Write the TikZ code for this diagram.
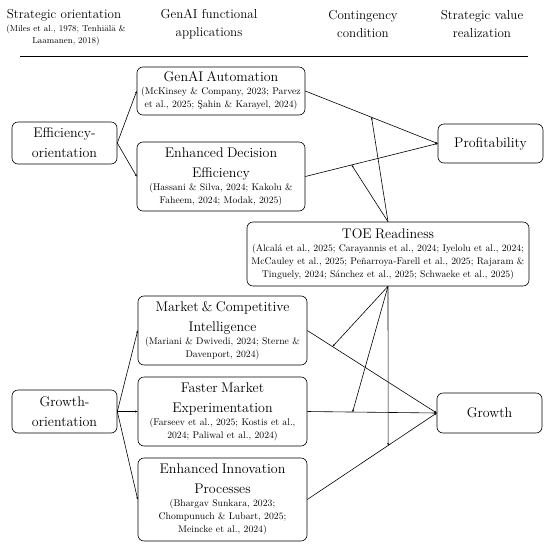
\documentclass[tikz,border=0pt]{standalone}
\usepackage{fontspec}
\usetikzlibrary{arrows.meta,calc}
\newcommand{\bxt}{\fontsize{14}{20}\selectfont}
\newcommand{\bxc}{\fontsize{9.7}{13}\selectfont}
\begin{document}
\begin{tikzpicture}[x=1pt,y=-1pt,
  box/.style={draw, rounded corners=6pt, line width=0.6pt, align=center, inner xsep=1pt, inner ysep=1pt},
  hdr/.style={align=center, font=\fontsize{13}{18}\selectfont, inner sep=0pt},
  hcit/.style={align=center, font=\fontsize{8.7}{12}\selectfont, inner sep=0pt},
  conn/.style={line width=0.6pt, -{Stealth[length=2.5pt,width=2pt]}},
]
\useasboundingbox (0,0) rectangle (550,547);
% header
\node[hdr] (h1) at (64,15) {Strategic orientation};
\node[hcit] (h1c) at (66,35) {(Miles et al., 1978; Tenhiälä \&\\Laamanen, 2018)};
\node[hdr] (h2) at (209,24) {GenAI functional\\applications};
\node[hdr] (h3) at (363,24) {Contingency\\condition};
\node[hdr] (h4) at (482,24) {Strategic value\\realization};
\coordinate (hl) at (20,56);
\coordinate (hr) at (528,56);
\draw[line width=1pt] (hl) -- (hr);
% boxes
\node[box, text width=103pt, minimum height=42pt] (eff) at (64.5,143) {\bxt Efficiency-\\orientation\par};
\node[box, text width=166pt, minimum height=48pt] (auto) at (221,91) {{\bxt GenAI Automation\par}{\bxc (McKinsey \& Company, 2023; Parvez\\et al., 2025; Şahin \& Karayel, 2024)\par}};
\node[box, text width=166pt, minimum height=69pt] (ede) at (221,176.5) {{\bxt Enhanced Decision\\Efficiency\par}{\bxc (Hassani \& Silva, 2024; Kakolu \&\\Faheem, 2024; Modak, 2025)\par}};
\node[box, text width=103pt, minimum height=39pt] (prof) at (490.5,143.5) {\bxt Profitability\par};
\node[box, text width=280pt, minimum height=64pt] (toe) at (388,254) {{\bxt TOE Readiness\par}{\bxc (Alcalá et al., 2025; Carayannis et al., 2024; Iyelolu et al., 2024;\\McCauley et al., 2025; Peñarroya-Farell et al., 2025; Rajaram \&\\Tinguely, 2024; Sánchez et al., 2025; Schwaeke et al., 2025)\par}};
\node[box, text width=167pt, minimum height=69pt] (mci) at (222.5,330.5) {{\bxt Market \& Competitive\\Intelligence\par}{\bxc (Mariani \& Dwivedi, 2024; Sterne \&\\Davenport, 2024)\par}};
\node[box, text width=167pt, minimum height=69pt] (fme) at (222.5,411.5) {{\bxt Faster Market\\Experimentation\par}{\bxc (Farseev et al., 2025; Kostis et al.,\\2024; Paliwal et al., 2024)\par}};
\node[box, text width=167pt, minimum height=83pt] (eip) at (222.5,499.5) {{\bxt Enhanced Innovation\\Processes\par}{\bxc (Bhargav Sunkara, 2023;\\Chompunuch \& Lubart, 2025;\\Meincke et al., 2024)\par}};
\node[box, text width=103pt, minimum height=43pt] (gro) at (64.5,411.5) {\bxt Growth-\\orientation\par};
\node[box, text width=103pt, minimum height=40pt] (grw) at (489.5,413) {\bxt Growth\par};
% connectors
\draw[conn] (eff.east) -- (auto.west);
\draw[conn] (eff.east) -- (ede.west);
\draw[conn] (auto.east) -- (prof.west);
\draw[conn] (ede.east) -- (prof.west);
\draw[conn] (gro.east) -- (mci.west);
\draw[conn] (gro.east) -- (fme.west);
\draw[conn] (gro.east) -- (eip.west);
\draw[conn] (mci.east) -- (grw.west);
\draw[conn] (fme.east) -- (grw.west);
\draw[conn] (eip.east) -- (grw.west);
\coordinate (p1) at ($(auto.east)!0.5!(prof.west)$);
\coordinate (p2) at ($(ede.east)!0.35!(prof.west)$);
\coordinate (p3) at ($(mci.east)!0.195!(grw.west)$);
\coordinate (p4) at ($(fme.east)!0.35!(grw.west)$);
\coordinate (p5) at ($(eip.east)!0.625!(grw.west)$);
\draw[conn] (toe.north) -- (p1);
\draw[conn] (toe.north) -- (p2);
\draw[conn] (toe.south) -- (p3);
\draw[conn] (toe.south) -- (p4);
\draw[conn] (toe.south) -- (p5);
\end{tikzpicture}
\end{document}
